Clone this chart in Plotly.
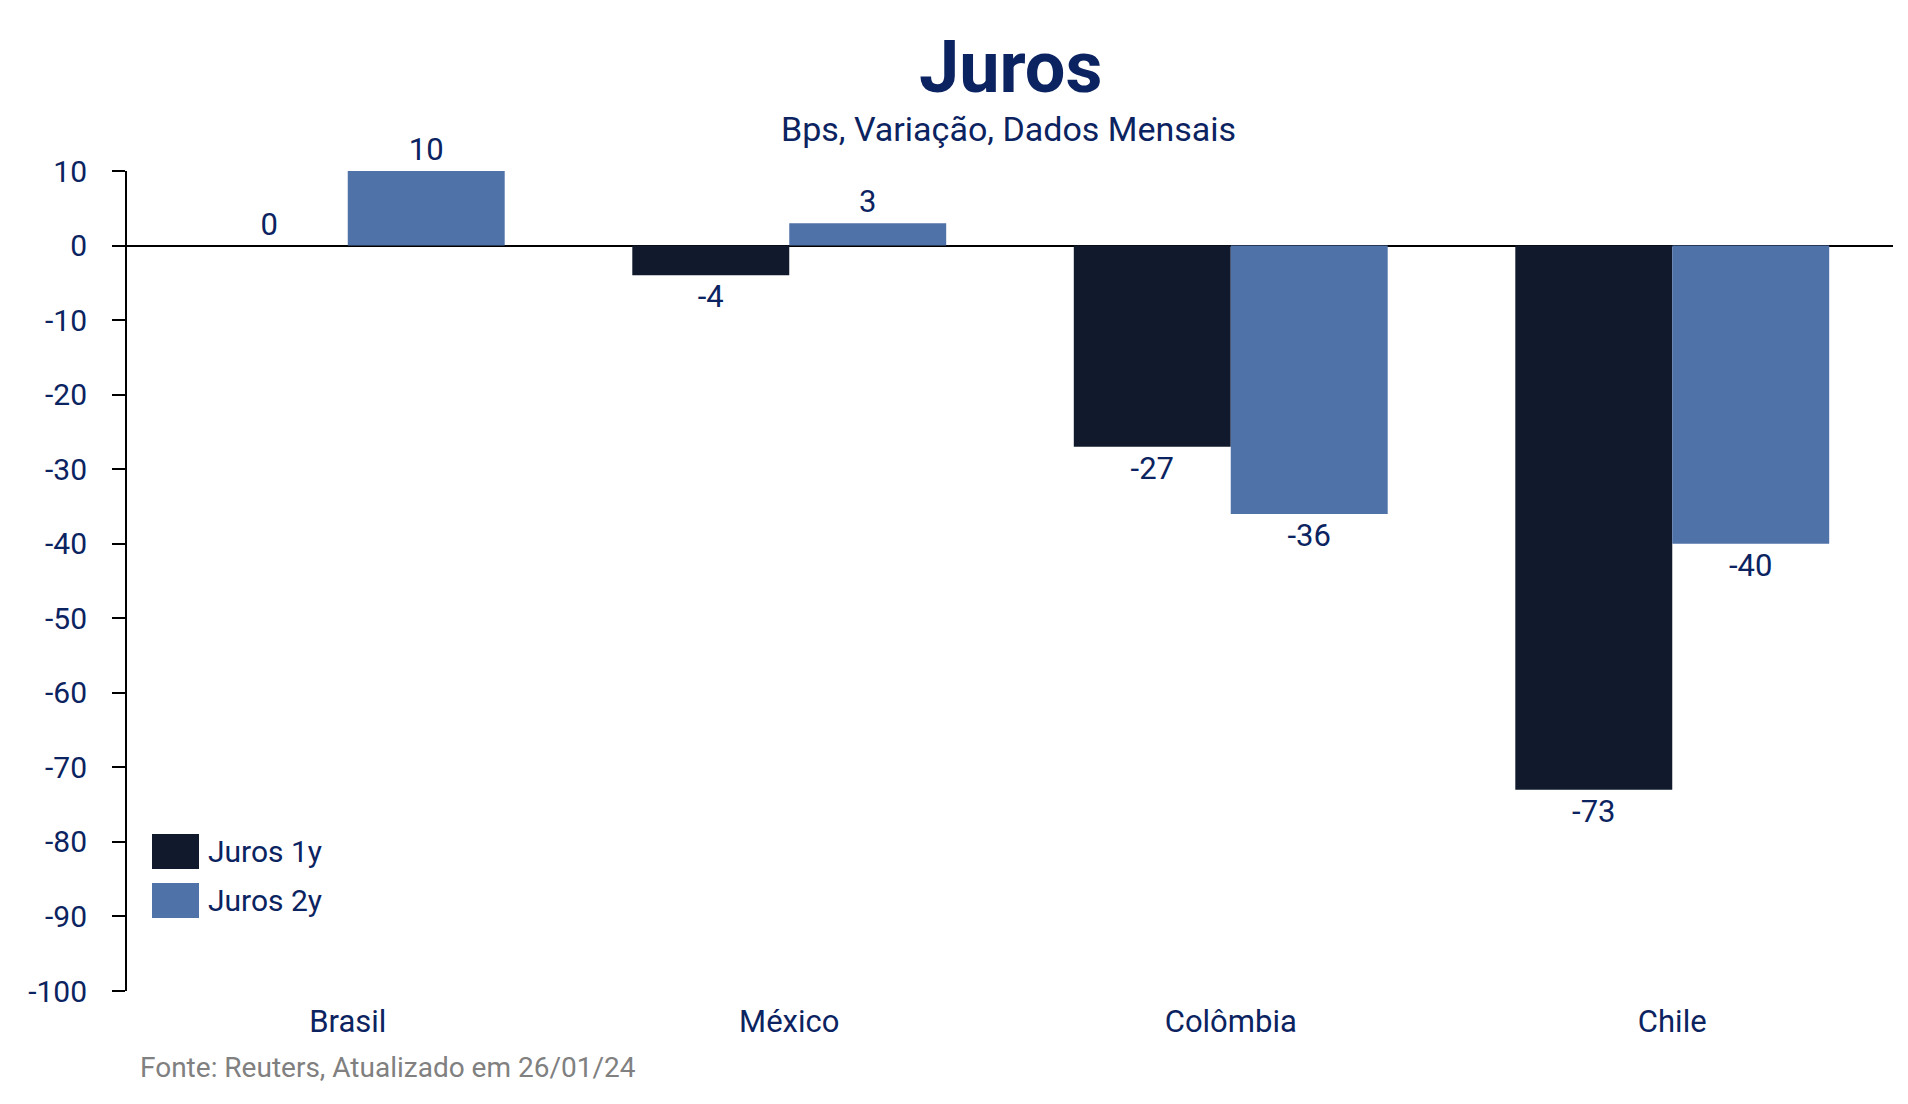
import plotly.graph_objects as go

categories = ["Brasil", "México", "Colômbia", "Chile"]
juros_1y = [0, -4, -27, -73]
juros_2y = [10, 3, -36, -40]
series_names = ["Juros 1y", "Juros 2y"]
y_ticks = [10, 0, -10, -20, -30, -40, -50, -60, -70, -80, -90, -100]

NAVY = "#0B2360"
C1 = "#111A2C"
C2 = "#4F72A8"
FONT = "Roboto, Noto Sans, sans-serif"

# page offset (browser body margin)
OFF = 8
PL, PR, PT, PB = 127, 1893, 171, 991  # plot area in page pixels
W, H = 1908, 1104


def px(x):
    return (x - PL) / (PR - PL)


def py(y):
    return (PB - y) / (PB - PT)


fig = go.Figure()
for name, vals, col in [(series_names[0], juros_1y, C1), (series_names[1], juros_2y, C2)]:
    fig.add_trace(go.Bar(
        x=categories, y=vals, name=name, marker=dict(color=col, line=dict(width=0)),
        text=[str(v) for v in vals], textposition="outside",
        textfont=dict(family=FONT, size=31, color=NAVY),
        cliponaxis=False, showlegend=False,
    ))

fig.update_layout(
    width=W, height=H,
    margin=dict(l=PL - OFF, r=W + OFF - PR, t=PT - OFF, b=H + OFF - PB),
    paper_bgcolor="white", plot_bgcolor="white",
    barmode="group", bargap=0.289, bargroupgap=0,
    font=dict(family=FONT, color=NAVY),
)
fig.update_xaxes(
    range=[-0.5, 3.5], showgrid=False, showline=False, ticks="",
    tickfont=dict(family=FONT, size=31, color=NAVY), ticklabelstandoff=9,
)
fig.update_yaxes(
    range=[-100, 10], tickvals=y_ticks, ticktext=[str(t) for t in y_ticks],
    showgrid=False, showline=True, linecolor="black", linewidth=2,
    ticks="outside", ticklen=13, tickwidth=2, tickcolor="black",
    zeroline=True, zerolinecolor="black", zerolinewidth=2,
    tickfont=dict(family=FONT, size=30, color=NAVY), ticklabelstandoff=19,
)

# Title and subtitle
fig.add_annotation(text="<b>Juros</b>", xref="paper", yref="paper", x=px(1010), y=py(67),
                   xanchor="center", yanchor="middle", showarrow=False,
                   font=dict(family=FONT, size=72, color=NAVY))
fig.add_annotation(text="Bps, Variação, Dados Mensais", xref="paper", yref="paper", x=px(1008), y=py(129),
                   xanchor="center", yanchor="middle", showarrow=False,
                   font=dict(family=FONT, size=34, color=NAVY))
# Footer
fig.add_annotation(text="Fonte: Reuters, Atualizado em 26/01/24", xref="paper", yref="paper",
                   x=px(138), y=py(1067), xanchor="left", yanchor="middle", showarrow=False,
                   font=dict(family=FONT, size=28, color="#808080"))

# Legend drawn as shapes + labels
leg_y = [851.5, 900.5]
for i, (name, col) in enumerate([(series_names[0], C1), (series_names[1], C2)]):
    fig.add_shape(type="rect", xref="paper", yref="paper",
                  x0=px(152), x1=px(199),
                  y0=py(leg_y[i] + 17.5), y1=py(leg_y[i] - 17.5),
                  fillcolor=col, line=dict(width=0))
    fig.add_annotation(text=name, xref="paper", yref="paper", x=px(206), y=py(leg_y[i]),
                       xanchor="left", yanchor="middle", showarrow=False,
                       font=dict(family=FONT, size=30, color=NAVY))

fig.write_html("out.html")
